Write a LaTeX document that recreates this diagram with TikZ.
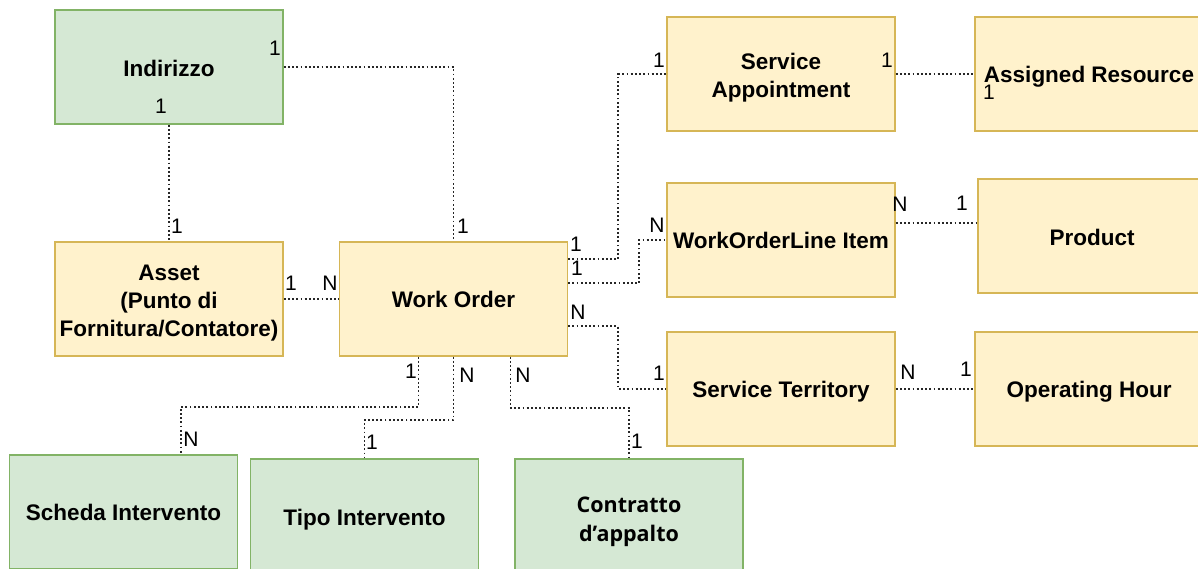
\documentclass[tikz,border=0pt]{standalone}
\usepackage{fontspec}
\setmainfont{Liberation Sans}
\newfontfamily\osfont{Open Sans}
\usetikzlibrary{calc}
\definecolor{yfill}{HTML}{FFF2CC}
\definecolor{ydraw}{HTML}{D6B656}
\definecolor{gfill}{HTML}{D5E8D4}
\definecolor{gdraw}{HTML}{82B366}
\newcommand{\lowstrut}[1]{\rule{0pt}{#1}}
\tikzset{
  entity/.style={draw, line width=1.4pt, minimum width=228pt, minimum height=114pt, inner sep=0pt, align=center,
    font=\bfseries\fontsize{22.5}{28}\selectfont},
  yent/.style={entity, fill=yfill, draw=ydraw},
  gent/.style={entity, fill=gfill, draw=gdraw},
  conn/.style={draw=black!85, line width=1.8pt, dash pattern=on 1.8pt off 2.4pt},
  card/.style={inner sep=0pt, font=\fontsize{21}{24}\selectfont}
}
\begin{document}
\begin{tikzpicture}[x=1pt,y=-1pt]
\useasboundingbox (0,0) rectangle (1198,568);
\clip (0,0) rectangle (1198,568);
% entities
\node[gent] (ind) at (169,67) {\lowstrut{19pt}Indirizzo};
\node[yent] (asset) at (169,299) {\lowstrut{23pt}Asset\\(Punto di\\Fornitura/Contatore)};
\node[yent] (wo) at (453.5,299) {Work Order};
\node[yent] (sa) at (781,74) {\lowstrut{24pt}Service\\Appointment};
\node[yent] (ar) at (1089,74) {\lowstrut{22pt}Assigned Resource};
\node[yent] (woli) at (781,240) {WorkOrderLine Item};
\node[yent] (prod) at (1092,236) {\lowstrut{19pt}Product};
\node[yent] (st) at (781,389) {\lowstrut{22pt}Service Territory};
\node[yent] (oh) at (1089,389) {\lowstrut{22pt}Operating Hour};
\node[gent] (scheda) at (123.5,512) {Scheda Intervento};
\node[gent] (tipo) at (364.5,516) {\lowstrut{23pt}Tipo Intervento};
\node[gent, font=\osfont\bfseries\fontsize{21.5}{29}\selectfont] (contr) at (629,516) {\lowstrut{27pt}Contratto\\d’appalto};
% connectors
\draw[conn] (ind.east) -| (wo.north);
\draw[conn] (ind.south) -- (asset.north);
\draw[conn] (asset.east) -- (wo.west);
\draw[conn] ($(wo.north east)+(0,18)$) -- ++(50,0) |- (sa.west);
\draw[conn] ($(wo.north east)+(0,42)$) -- ++(71,0) |- (woli.west);
\draw[conn] ($(wo.north east)+(0,85)$) -- ++(50,0) |- (st.west);
\draw[conn] (sa.east) -- (ar.west);
\coordinate (p8) at ($(woli.east)+(0,-17)$);
\draw[conn] (p8) -- (p8 -| prod.west);
\draw[conn] (st.east) -- (oh.west);
\draw[conn] ($(wo.south)+(-35,0)$) -- ++(0,50) -| ($(scheda.north west)+(172,0)$);
\draw[conn] (wo.south) -- ++(0,63) -| (tipo.north);
\draw[conn] ($(wo.south)+(57,0)$) -- ++(0,51) -| (contr.north);
% cardinalities
\node[card] (c1) at (275,48) {1};
\node[card] (c2) at (161,106) {1};
\node[card] (c3) at (177,226) {1};
\node[card] (c4) at (463,226) {1};
\node[card] (c5) at (291,283) {1};
\node[card] (c6) at (330,283) {N};
\node[card] (c7) at (576,244) {1};
\node[card] (c8) at (659,60) {1};
\node[card] (c9) at (577,268) {1};
\node[card] (c10) at (657,225) {N};
\node[card] (c11) at (578,312) {N};
\node[card] (c12) at (659,373) {1};
\node[card] (c13) at (887,60) {1};
\node[card] (c14) at (989,92) {1};
\node[card] (c15) at (900,204) {N};
\node[card] (c16) at (962,203) {1};
\node[card] (c17) at (908,372) {N};
\node[card] (c18) at (966,369) {1};
\node[card] (c19) at (411,371) {1};
\node[card] (c20) at (191,439) {N};
\node[card] (c21) at (467,375) {N};
\node[card] (c22) at (372,442) {1};
\node[card] (c23) at (523,375) {N};
\node[card] (c24) at (637,441) {1};
\end{tikzpicture}
\end{document}
